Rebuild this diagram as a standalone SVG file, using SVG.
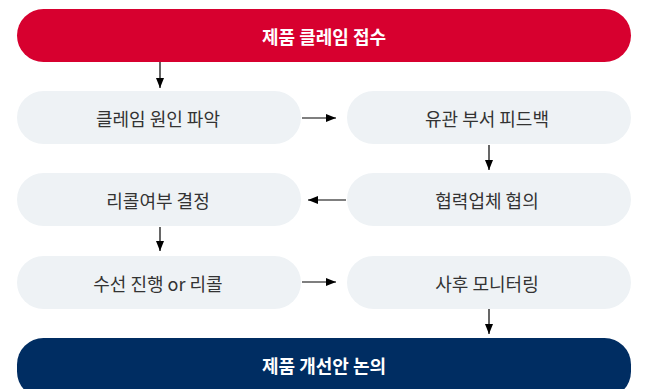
<svg xmlns="http://www.w3.org/2000/svg" width="646" height="389" viewBox="0 0 646 389">
<defs>
<marker id="ah" markerWidth="10" markerHeight="8" refX="10" refY="4" orient="auto" markerUnits="userSpaceOnUse">
<path d="M0,0 L10,4 L0,8 Z" fill="#000"/>
</marker>
<style>
.box{fill:#EEF2F5}
.t{font-family:"Noto Sans CJK KR","Noto Sans",sans-serif;font-size:18px;fill:#333;text-anchor:middle;dominant-baseline:central}
.tb{font-family:"Noto Sans CJK KR","Noto Sans",sans-serif;font-size:18px;font-weight:bold;fill:#fff;text-anchor:middle;dominant-baseline:central}
.c{stroke:#000;stroke-width:1.2;fill:none;marker-end:url(#ah)}
</style>
</defs>
<rect width="646" height="389" fill="#fff"/>
<g id="n-start"><rect x="17" y="9" width="614" height="53" rx="26.5" fill="#D7002F"/><text class="tb" x="324" y="35.5">제품 클레임 접수</text></g>
<g id="n1"><rect class="box" x="17" y="91" width="284" height="53" rx="26.5"/><text class="t" x="158" y="118">클레임 원인 파악</text></g>
<g id="n2"><rect class="box" x="347" y="91" width="284" height="53" rx="26.5"/><text class="t" x="487" y="118">유관 부서 피드백</text></g>
<g id="n3"><rect class="box" x="347" y="173" width="284" height="53" rx="26.5"/><text class="t" x="487" y="200">협력업체 협의</text></g>
<g id="n4"><rect class="box" x="17" y="173" width="284" height="53" rx="26.5"/><text class="t" x="158" y="200">리콜여부 결정</text></g>
<g id="n5"><rect class="box" x="17" y="256" width="284" height="53" rx="26.5"/><text class="t" x="158" y="282.5">수선 진행 or 리콜</text></g>
<g id="n6"><rect class="box" x="347" y="256" width="284" height="53" rx="26.5"/><text class="t" x="487" y="282.5">사후 모니터링</text></g>
<g id="n-end"><rect x="17" y="338" width="614" height="60" rx="26.5" fill="#002D62"/><text class="tb" x="324" y="364.5">제품 개선안 논의</text></g>
<g id="connectors">
<line class="c" x1="160" y1="62" x2="160" y2="88"/>
<line class="c" x1="302" y1="118" x2="336" y2="118"/>
<line class="c" x1="489" y1="145" x2="489" y2="170"/>
<line class="c" x1="346" y1="200" x2="308" y2="200"/>
<line class="c" x1="160" y1="227" x2="160" y2="251"/>
<line class="c" x1="302" y1="282" x2="336" y2="282"/>
<line class="c" x1="489" y1="309" x2="489" y2="334"/>
</g>
</svg>
